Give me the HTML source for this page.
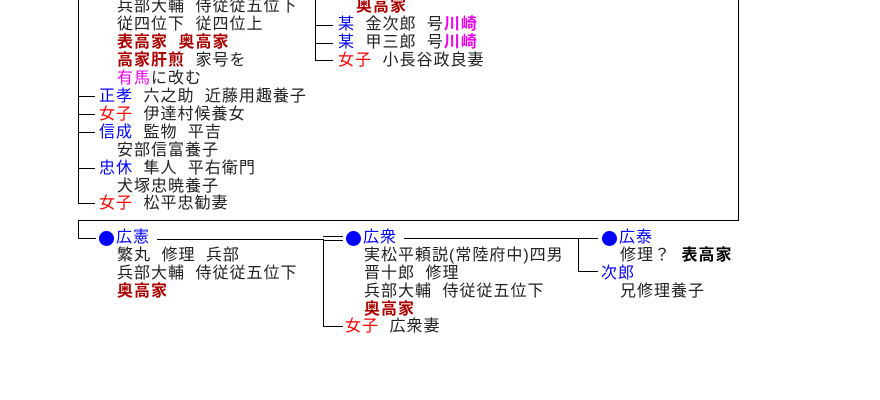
<!DOCTYPE html>
<html><head><meta charset="utf-8"><style>
body{margin:0;width:880px;height:400px;background:#fff;position:relative;overflow:hidden;font-family:"Liberation Sans","Noto Sans CJK JP",sans-serif;font-size:16px;color:#222;}
.t{position:absolute;white-space:nowrap;line-height:18px;letter-spacing:1px;word-spacing:5px;}
.l{position:absolute;background:#000;}
.b{color:#00f}.r{color:#f00}.m{color:#e0e}.d{color:#a00;font-weight:bold}.k{color:#000;font-weight:bold}
.dot{position:absolute;width:15px;height:15px;border-radius:50%;background:#00f;}
</style></head><body>
<div class="l" style="left:78px;top:0;width:1px;height:204px"></div>
<div class="l" style="left:78px;top:96px;width:17px;height:1px"></div>
<div class="l" style="left:78px;top:114px;width:17px;height:1px"></div>
<div class="l" style="left:78px;top:132px;width:17px;height:1px"></div>
<div class="l" style="left:78px;top:168px;width:17px;height:1px"></div>
<div class="l" style="left:78px;top:203px;width:17px;height:1px"></div>
<div class="t" style="left:117px;top:-2px">兵部大輔 侍従従五位下</div>
<div class="t" style="left:117px;top:16px">従四位下 従四位上</div>
<div class="t" style="left:117px;top:34px"><span class="d">表高家 奥高家</span></div>
<div class="t" style="left:117px;top:52px"><span class="d">高家肝煎</span> 家号を</div>
<div class="t" style="left:117px;top:70px"><span class="m">有馬</span>に改む</div>
<div class="t" style="left:99px;top:88px"><span class="b">正孝</span> 六之助 近藤用趣養子</div>
<div class="t" style="left:99px;top:106px"><span class="r">女子</span> 伊達村候養女</div>
<div class="t" style="left:99px;top:124px"><span class="b">信成</span> 監物 平吉</div>
<div class="t" style="left:117px;top:142px">安部信富養子</div>
<div class="t" style="left:99px;top:160px"><span class="b">忠休</span> 隼人 平右衛門</div>
<div class="t" style="left:117px;top:178px">犬塚忠暁養子</div>
<div class="t" style="left:99px;top:195px"><span class="r">女子</span> 松平忠勧妻</div>
<div class="l" style="left:315px;top:0;width:1px;height:61px"></div>
<div class="l" style="left:315px;top:25px;width:18px;height:1px"></div>
<div class="l" style="left:315px;top:43px;width:18px;height:1px"></div>
<div class="l" style="left:315px;top:60px;width:18px;height:1px"></div>
<div class="t" style="left:356px;top:-2px"><span class="d">奥高家</span></div>
<div class="t" style="left:338px;top:16px"><span class="b">某</span> 金次郎 号<span class="m" style="font-weight:bold">川崎</span></div>
<div class="t" style="left:338px;top:34px"><span class="b">某</span> 甲三郎 号<span class="m" style="font-weight:bold">川崎</span></div>
<div class="t" style="left:338px;top:52px"><span class="r">女子</span> 小長谷政良妻</div>
<div class="l" style="left:738px;top:0;width:1px;height:221px"></div>
<div class="l" style="left:78px;top:220px;width:661px;height:1px"></div>
<div class="l" style="left:78px;top:220px;width:1px;height:19px"></div>
<div class="l" style="left:78px;top:238px;width:18px;height:1px"></div>
<div class="dot" style="left:99px;top:231px"></div>
<div class="t" style="left:116px;top:229px"><span class="b">広憲</span></div>
<div class="l" style="left:157px;top:239px;width:166px;height:1px"></div>
<div class="l" style="left:323px;top:236px;width:20px;height:1px"></div>
<div class="l" style="left:323px;top:240px;width:20px;height:1px"></div>
<div class="l" style="left:323px;top:239px;width:1px;height:88px"></div>
<div class="l" style="left:323px;top:326px;width:20px;height:1px"></div>
<div class="t" style="left:117px;top:247px">繁丸 修理 兵部</div>
<div class="t" style="left:117px;top:265px">兵部大輔 侍従従五位下</div>
<div class="t" style="left:117px;top:283px"><span class="d">奥高家</span></div>
<div class="dot" style="left:346px;top:231px"></div>
<div class="t" style="left:363px;top:229px"><span class="b">広衆</span></div>
<div class="l" style="left:404px;top:238px;width:194px;height:1px"></div>
<div class="l" style="left:578px;top:238px;width:1px;height:34px"></div>
<div class="l" style="left:578px;top:271px;width:20px;height:1px"></div>
<div class="t" style="left:364px;top:247px">実松平頼説(常陸府中)四男</div>
<div class="t" style="left:364px;top:265px">晋十郎 修理</div>
<div class="t" style="left:364px;top:283px">兵部大輔 侍従従五位下</div>
<div class="t" style="left:364px;top:301px"><span class="d">奥高家</span></div>
<div class="t" style="left:345px;top:318px"><span class="r">女子</span> 広衆妻</div>
<div class="dot" style="left:602px;top:231px"></div>
<div class="t" style="left:619px;top:229px"><span class="b">広泰</span></div>
<div class="t" style="left:620px;top:247px">修理？ <span class="k">表高家</span></div>
<div class="t" style="left:601px;top:265px"><span class="b">次郎</span></div>
<div class="t" style="left:620px;top:283px">兄修理養子</div>
</body></html>
